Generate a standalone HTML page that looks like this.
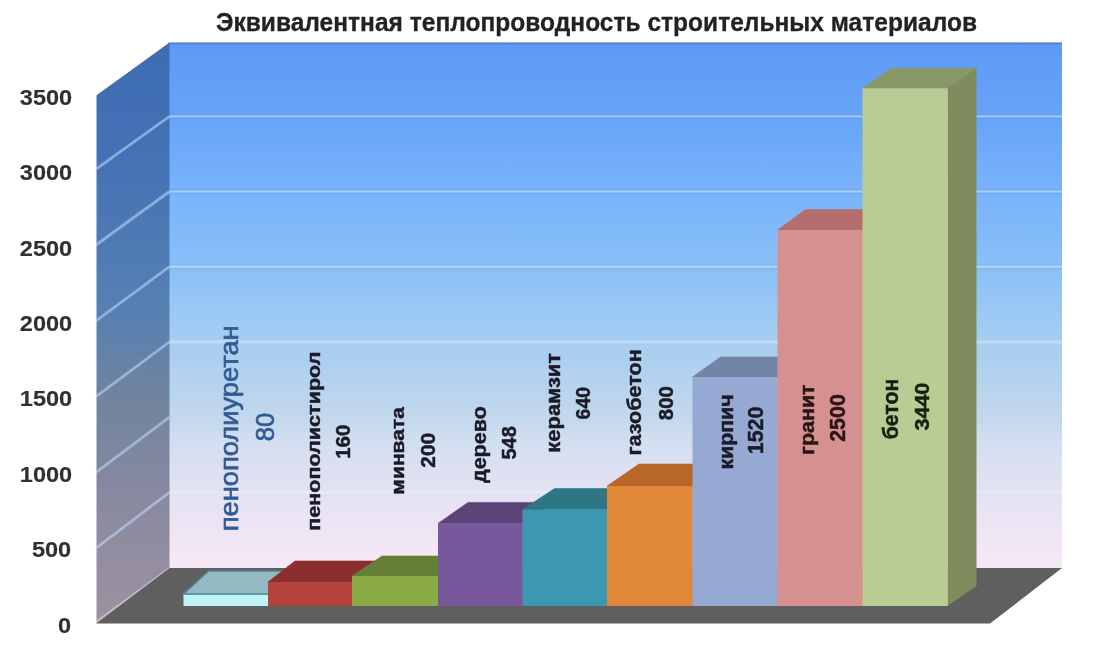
<!DOCTYPE html>
<html><head><meta charset="utf-8"><style>
html,body{margin:0;padding:0;background:#fff;width:1094px;height:650px;overflow:hidden}
svg{display:block;filter:blur(0.5px)}
text{font-family:"Liberation Sans",sans-serif}
</style></head><body>
<svg width="1094" height="650" viewBox="0 0 1094 650">
<defs>
<linearGradient id="gb" x1="0" y1="43" x2="0" y2="568" gradientUnits="userSpaceOnUse">
<stop offset="0" stop-color="#5e9af5"/>
<stop offset="0.14" stop-color="#67a4f8"/>
<stop offset="0.28" stop-color="#78b3fa"/>
<stop offset="0.42" stop-color="#88bff8"/>
<stop offset="0.49" stop-color="#96c7f5"/>
<stop offset="0.57" stop-color="#a6cdf0"/>
<stop offset="0.72" stop-color="#c4d8ec"/>
<stop offset="0.756" stop-color="#d2def0"/>
<stop offset="0.85" stop-color="#e2e2f2"/>
<stop offset="0.985" stop-color="#f6e7f6"/>
<stop offset="1" stop-color="#f6e7f6"/>
</linearGradient>
<linearGradient id="gs" x1="0" y1="43" x2="0" y2="622" gradientUnits="userSpaceOnUse">
<stop offset="0" stop-color="#3e6cb2"/>
<stop offset="0.2" stop-color="#4572b4"/>
<stop offset="0.45" stop-color="#5480b4"/>
<stop offset="0.62" stop-color="#72849e"/>
<stop offset="0.8" stop-color="#8a8aa0"/>
<stop offset="1" stop-color="#9c92a0"/>
</linearGradient>
</defs>
<rect width="1094" height="650" fill="#fff"/>

<text x="596.5" y="30.7" text-anchor="middle" font-size="25.8" font-weight="bold" fill="#222" stroke="#222" stroke-width="0.3" textLength="761" lengthAdjust="spacingAndGlyphs">Эквивалентная теплопроводность строительных материалов</text>
<polygon points="168.5,42.5 1062,42.5 1062,569 168.5,569" fill="url(#gb)"/>
<polygon points="96.5,95.3 169.5,42.5 169.5,568 96.5,623" fill="url(#gs)"/>
<line x1="169.5" y1="492.3" x2="1062" y2="492.3" stroke="#ffffff" stroke-opacity="0.22" stroke-width="2.5"/>
<line x1="96" y1="548.2" x2="169.5" y2="492.3" stroke="#c0dcff" stroke-opacity="0.55" stroke-width="2.8"/>
<line x1="96" y1="472.4" x2="169.5" y2="417.1" stroke="#c0dcff" stroke-opacity="0.55" stroke-width="2.8"/>
<line x1="169.5" y1="341.9" x2="1062" y2="341.9" stroke="#ffffff" stroke-opacity="0.28" stroke-width="3.4"/>
<line x1="96" y1="396.6" x2="169.5" y2="341.9" stroke="#c0dcff" stroke-opacity="0.55" stroke-width="2.8"/>
<line x1="169.5" y1="266.7" x2="1062" y2="266.7" stroke="#2050a0" stroke-opacity="0.08" stroke-width="5"/>
<line x1="169.5" y1="266.7" x2="1062" y2="266.7" stroke="#ffffff" stroke-opacity="0.42" stroke-width="2.2"/>
<line x1="96" y1="320.8" x2="169.5" y2="266.7" stroke="#c0dcff" stroke-opacity="0.55" stroke-width="2.8"/>
<line x1="169.5" y1="191.5" x2="1062" y2="191.5" stroke="#2050a0" stroke-opacity="0.08" stroke-width="5"/>
<line x1="169.5" y1="191.5" x2="1062" y2="191.5" stroke="#ffffff" stroke-opacity="0.42" stroke-width="2.2"/>
<line x1="96" y1="245" x2="169.5" y2="191.5" stroke="#c0dcff" stroke-opacity="0.55" stroke-width="2.8"/>
<line x1="169.5" y1="116.3" x2="1062" y2="116.3" stroke="#2050a0" stroke-opacity="0.08" stroke-width="5"/>
<line x1="169.5" y1="116.3" x2="1062" y2="116.3" stroke="#ffffff" stroke-opacity="0.42" stroke-width="2.2"/>
<line x1="96" y1="169.2" x2="169.5" y2="116.3" stroke="#c0dcff" stroke-opacity="0.55" stroke-width="2.8"/>
<line x1="96" y1="622" x2="169.5" y2="568" stroke="#d8d0d8" stroke-opacity="0.7" stroke-width="2"/>
<line x1="169.5" y1="43.6" x2="1062" y2="43.6" stroke="#4a78c8" stroke-opacity="0.55" stroke-width="2"/>
<polygon points="96,623.5 169.5,568 1062,568 990,623.5" fill="#5f5f5f"/>
<polygon points="183.5,594 208.5,571 293,571 268,594" fill="#94b9c2" stroke="#4f8590" stroke-width="1.6" stroke-linejoin="round"/>
<rect x="183.5" y="594" width="84.9" height="12" fill="#bff3f8"/>
<line x1="183.5" y1="594.3" x2="268" y2="594.3" stroke="#5d99a4" stroke-width="1.2"/>
<polygon points="268,582 295,561 379,561 352,582" fill="#8c2e2e" stroke="#8c2e2e" stroke-width="0.6"/>
<rect x="268" y="582" width="84.4" height="24" fill="#b4423c"/>
<polygon points="352,576 382,556 468,556 438,576" fill="#667f36" stroke="#667f36" stroke-width="0.6"/>
<rect x="352" y="576" width="86.4" height="30" fill="#8aaa44"/>
<polygon points="438,523.4 468,502.4 552.5,502.4 522.5,523.4" fill="#5c4478" stroke="#5c4478" stroke-width="0.6"/>
<rect x="438" y="523.4" width="84.9" height="82.6" fill="#78589c"/>
<polygon points="522.5,509.6 554.5,488.6 639,488.6 607,509.6" fill="#2c7686" stroke="#2c7686" stroke-width="0.6"/>
<rect x="522.5" y="509.6" width="84.9" height="96.4" fill="#3c98b0"/>
<polygon points="607,486 639,464 724.5,464 692.5,486" fill="#b8662a" stroke="#b8662a" stroke-width="0.6"/>
<rect x="607" y="486" width="85.9" height="120" fill="#e08838"/>
<polygon points="692.5,377 720.5,357 805.5,357 777.5,377" fill="#7484a6" stroke="#7484a6" stroke-width="0.6"/>
<rect x="692.5" y="377" width="85.4" height="229" fill="#95a9d3"/>
<polygon points="777.5,230 805.5,209.5 890.5,209.5 862.5,230" fill="#b46e6e" stroke="#b46e6e" stroke-width="0.6"/>
<rect x="777.5" y="230" width="85.4" height="376" fill="#d69090"/>
<polygon points="862.5,88.3 891.5,68.3 976.5,68.3 947.5,88.3" fill="#8a9868" stroke="#8a9868" stroke-width="0.6"/>
<polygon points="947.5,88.3 976.5,68.3 976.5,586 947.5,606" fill="#7e8c5e"/>
<rect x="862.5" y="88.3" width="85.4" height="517.7" fill="#b8cc94"/>
<text x="71.2" y="632.5" text-anchor="end" font-size="22.8" font-weight="bold" fill="#303030" stroke="#303030" stroke-width="0.15" textLength="13.1" lengthAdjust="spacingAndGlyphs">0</text>
<text x="71.2" y="557.14" text-anchor="end" font-size="22.8" font-weight="bold" fill="#303030" stroke="#303030" stroke-width="0.15" textLength="39.3" lengthAdjust="spacingAndGlyphs">500</text>
<text x="72.2" y="481.78" text-anchor="end" font-size="22.8" font-weight="bold" fill="#303030" stroke="#303030" stroke-width="0.15" textLength="52.4" lengthAdjust="spacingAndGlyphs">1000</text>
<text x="72.2" y="406.42" text-anchor="end" font-size="22.8" font-weight="bold" fill="#303030" stroke="#303030" stroke-width="0.15" textLength="52.4" lengthAdjust="spacingAndGlyphs">1500</text>
<text x="72.2" y="331.06" text-anchor="end" font-size="22.8" font-weight="bold" fill="#303030" stroke="#303030" stroke-width="0.15" textLength="52.4" lengthAdjust="spacingAndGlyphs">2000</text>
<text x="72.2" y="255.7" text-anchor="end" font-size="22.8" font-weight="bold" fill="#303030" stroke="#303030" stroke-width="0.15" textLength="52.4" lengthAdjust="spacingAndGlyphs">2500</text>
<text x="72.2" y="180.34" text-anchor="end" font-size="22.8" font-weight="bold" fill="#303030" stroke="#303030" stroke-width="0.15" textLength="52.4" lengthAdjust="spacingAndGlyphs">3000</text>
<text x="72.2" y="104.98" text-anchor="end" font-size="22.8" font-weight="bold" fill="#303030" stroke="#303030" stroke-width="0.15" textLength="52.4" lengthAdjust="spacingAndGlyphs">3500</text>
<text transform="translate(238,428.3) rotate(-90)" x="0" y="0" text-anchor="middle" font-size="26.5" font-weight="normal" fill="#315b94" stroke="#315b94" stroke-width="0.65" textLength="206" lengthAdjust="spacingAndGlyphs">пенополиуретан</text>
<text transform="translate(273.8,427) rotate(-90)" x="0" y="0" text-anchor="middle" font-size="26.5" font-weight="normal" fill="#315b94" stroke="#315b94" stroke-width="0.65" textLength="28.6" lengthAdjust="spacingAndGlyphs">80</text>
<text transform="translate(319.5,441.2) rotate(-90)" x="0" y="0" text-anchor="middle" font-size="18.3" font-weight="bold" fill="#1b1b28" stroke="#1b1b28" stroke-width="0.45" textLength="179.3" lengthAdjust="spacingAndGlyphs">пенополистирол</text>
<text transform="translate(350.2,441.7) rotate(-90)" x="0" y="0" text-anchor="middle" font-size="19.3" font-weight="bold" fill="#1b1b28" stroke="#1b1b28" stroke-width="0.45" textLength="34.2" lengthAdjust="spacingAndGlyphs">160</text>
<text transform="translate(404.2,450.8) rotate(-90)" x="0" y="0" text-anchor="middle" font-size="19" font-weight="bold" fill="#1b1b28" stroke="#1b1b28" stroke-width="0.45" textLength="87.7" lengthAdjust="spacingAndGlyphs">минвата</text>
<text transform="translate(435,450.3) rotate(-90)" x="0" y="0" text-anchor="middle" font-size="20.5" font-weight="bold" fill="#1b1b28" stroke="#1b1b28" stroke-width="0.45" textLength="34.7" lengthAdjust="spacingAndGlyphs">200</text>
<text transform="translate(486.3,444.6) rotate(-90)" x="0" y="0" text-anchor="middle" font-size="20.5" font-weight="bold" fill="#1b1b28" stroke="#1b1b28" stroke-width="0.45" textLength="76.8" lengthAdjust="spacingAndGlyphs">дерево</text>
<text transform="translate(516,442.9) rotate(-90)" x="0" y="0" text-anchor="middle" font-size="20.5" font-weight="bold" fill="#1b1b28" stroke="#1b1b28" stroke-width="0.45" textLength="33.2" lengthAdjust="spacingAndGlyphs">548</text>
<text transform="translate(560.3,402.8) rotate(-90)" x="0" y="0" text-anchor="middle" font-size="20.5" font-weight="bold" fill="#1b1b28" stroke="#1b1b28" stroke-width="0.45" textLength="99.7" lengthAdjust="spacingAndGlyphs">керамзит</text>
<text transform="translate(589.8,403.2) rotate(-90)" x="0" y="0" text-anchor="middle" font-size="20" font-weight="bold" fill="#1b1b28" stroke="#1b1b28" stroke-width="0.45" textLength="32.4" lengthAdjust="spacingAndGlyphs">640</text>
<text transform="translate(641.2,402.3) rotate(-90)" x="0" y="0" text-anchor="middle" font-size="20.3" font-weight="bold" fill="#1b1b28" stroke="#1b1b28" stroke-width="0.45" textLength="106.2" lengthAdjust="spacingAndGlyphs">газобетон</text>
<text transform="translate(672.6,403.2) rotate(-90)" x="0" y="0" text-anchor="middle" font-size="21" font-weight="bold" fill="#1b1b28" stroke="#1b1b28" stroke-width="0.45" textLength="34" lengthAdjust="spacingAndGlyphs">800</text>
<text transform="translate(732.6,432) rotate(-90)" x="0" y="0" text-anchor="middle" font-size="19.5" font-weight="bold" fill="#1b1b28" stroke="#1b1b28" stroke-width="0.45" textLength="75.2" lengthAdjust="spacingAndGlyphs">кирпич</text>
<text transform="translate(763.3,430.4) rotate(-90)" x="0" y="0" text-anchor="middle" font-size="21.8" font-weight="bold" fill="#1b1b28" stroke="#1b1b28" stroke-width="0.45" textLength="47.7" lengthAdjust="spacingAndGlyphs">1520</text>
<text transform="translate(814.2,419.7) rotate(-90)" x="0" y="0" text-anchor="middle" font-size="19.5" font-weight="bold" fill="#2a1414" stroke="#2a1414" stroke-width="0.45" textLength="70.4" lengthAdjust="spacingAndGlyphs">гранит</text>
<text transform="translate(845,418) rotate(-90)" x="0" y="0" text-anchor="middle" font-size="21.8" font-weight="bold" fill="#2a1414" stroke="#2a1414" stroke-width="0.45" textLength="47.7" lengthAdjust="spacingAndGlyphs">2500</text>
<text transform="translate(898.3,409) rotate(-90)" x="0" y="0" text-anchor="middle" font-size="22" font-weight="bold" fill="#162010" stroke="#162010" stroke-width="0.45" textLength="60.7" lengthAdjust="spacingAndGlyphs">бетон</text>
<text transform="translate(929,406.6) rotate(-90)" x="0" y="0" text-anchor="middle" font-size="20.8" font-weight="bold" fill="#162010" stroke="#162010" stroke-width="0.45" textLength="47.7" lengthAdjust="spacingAndGlyphs">3440</text>
</svg></body></html>
